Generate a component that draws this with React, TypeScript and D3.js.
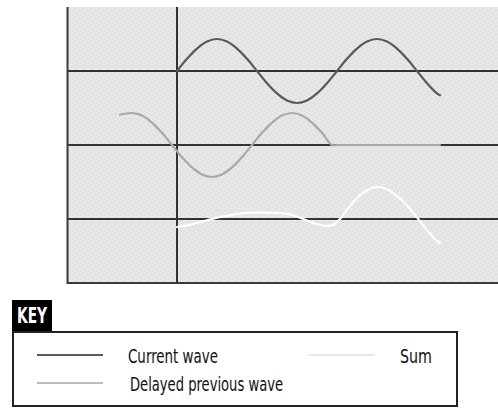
import React from "react";
import * as d3 from "d3";

// time axis: t = 0 at the vertical line; one period = 8 units
const currentT = [0, 0.5, 1, 1.5, 2, 2.5, 3, 3.5, 4, 4.5, 5, 5.5, 6, 6.5, 7, 7.5, 8, 8.5, 9, 9.5, 10, 10.5, 11, 11.5, 12, 12.5, 13, 13.15];
const currentV = [0, 0.38, 0.7, 0.92, 1, 0.92, 0.7, 0.38, 0, -0.38, -0.7, -0.92, -1, -0.92, -0.7, -0.38, 0, 0.38, 0.7, 0.92, 1, 0.92, 0.7, 0.38, 0, -0.38, -0.7, -0.76];

const delayedT = [-2.85, -2.25, -1.75, -1.25, -0.75, -0.25, 0.25, 0.75, 1.25, 1.75, 2.25, 2.75, 3.25, 3.75, 4.25, 4.75, 5.25, 5.75, 6.25, 6.75, 7.25, 7.75, 8.0, 13.15];
const delayedV = [0.95, 1, 0.92, 0.7, 0.38, 0, -0.38, -0.7, -0.92, -1, -0.92, -0.7, -0.38, 0, 0.38, 0.7, 0.92, 1, 0.92, 0.7, 0.38, 0, 0, 0];

const sumT = [0, 0.5, 1, 1.5, 2, 2.5, 3, 3.5, 4, 4.5, 5, 5.5, 6, 6.5, 7, 7.5, 7.8, 8.15, 8.5, 9, 9.5, 10, 10.5, 11, 11.5, 12, 12.5, 13, 13.15];
const sumV = [-0.25, -0.2, -0.12, -0.04, 0.04, 0.1, 0.16, 0.19, 0.2, 0.2, 0.19, 0.16, 0.08, -0.05, -0.16, -0.22, -0.18, 0, 0.3, 0.65, 0.9, 1, 0.93, 0.72, 0.42, 0.05, -0.35, -0.68, -0.75];

const seriesNames = ["Current wave", "Delayed previous wave", "Sum"];
const seriesColors = ["#595959", "#a9a9a9", "#ffffff"];
const legendSwatchColors = ["#595959", "#bdbdbd", "#e8e8e8"];

// dither texture of the plot background
const texRows = [
  "o.x..o.o",
  "..o.x...",
  "x...o.o.",
  ".o.x...x",
  "..o..o..",
  "o...x..o",
  ".x.o...x",
  "...o.x.o",
];
const texColors: Record<string, string> = { ".": "#e4e4e4", o: "#efefef", x: "#d9d9d9" };

const W = 498;
const H = 408;

export default function App() {
  const x = d3.scaleLinear().domain([-5.45, 16.05]).range([68, 498]);
  const band = d3.scalePoint<string>().domain(seriesNames).range([71, 219]);
  const amp = d3.scaleLinear().domain([-1, 1]).range([32, -32]);

  const mk = (ts: number[], vs: number[], name: string) => {
    const pts = ts.map((t, i) => [t, vs[i]] as [number, number]);
    const line = d3
      .line<[number, number]>()
      .x((d) => x(d[0]))
      .y((d) => (band(name) as number) + amp(d[1]))
      .curve(d3.curveCatmullRom);
    return line(pts) || "";
  };

  const paths = [
    mk(currentT, currentV, seriesNames[0]),
    mk(delayedT, delayedV, seriesNames[1]),
    mk(sumT, sumV, seriesNames[2]),
  ];

  const font = "'Liberation Sans Narrow', 'DejaVu Sans Condensed', 'Open Sans', sans-serif";
  const x0 = x(0);

  return (
    <svg width={W} height={H} style={{ position: "absolute", left: 0, top: 0 }}>
      <defs>
        <pattern id="tex" width="8" height="8" patternUnits="userSpaceOnUse">
          {texRows.map((row, r) =>
            row.split("").map((c, k) => (
              <rect key={`${r}-${k}`} x={k} y={r} width={1} height={1} fill={texColors[c]} />
            ))
          )}
        </pattern>
      </defs>
      <rect x="0" y="0" width={W} height={H} fill="#ffffff" />
      {/* panel */}
      <rect x={68} y={7} width={W - 68} height={276} fill="url(#tex)" />
      <line x1={67.5} x2={67.5} y1={7} y2={284} stroke="#3a3a3a" strokeWidth={2} />
      <line x1={67} x2={W} y1={283} y2={283} stroke="#3a3a3a" strokeWidth={2} />
      {/* baselines */}
      {seriesNames.map((n) => (
        <line key={n} x1={68} x2={W} y1={band(n)} y2={band(n)} stroke="#333" strokeWidth={2} />
      ))}
      <line x1={x0} x2={x0} y1={7} y2={283} stroke="#333" strokeWidth={2} />
      {/* waves */}
      {paths.map((p, i) => (
        <path key={i} d={p} fill="none" stroke={seriesColors[i]} strokeWidth={2.2} strokeLinecap="round" />
      ))}

      {/* key */}
      <rect x={12} y={300} width={40} height={31} fill="#000" />
      <text x={32} y={323} fill="#fff" fontFamily={font} fontWeight="bold" fontSize={21} textAnchor="middle" textLength={30} lengthAdjust="spacingAndGlyphs">
        KEY
      </text>
      <rect x={13} y={332} width={444} height={74} fill="#fff" stroke="#222" strokeWidth={2} />
      <line x1={37} x2={103} y1={355} y2={355} stroke={legendSwatchColors[0]} strokeWidth={2} />
      <text x={128} y={363} fontFamily={font} fontSize={20} fill="#111" textLength={90} lengthAdjust="spacingAndGlyphs">
        {seriesNames[0]}
      </text>
      <line x1={37} x2={103} y1={383} y2={383} stroke={legendSwatchColors[1]} strokeWidth={2} />
      <text x={130} y={391} fontFamily={font} fontSize={20} fill="#111" textLength={153} lengthAdjust="spacingAndGlyphs">
        {seriesNames[1]}
      </text>
      <line x1={308} x2={375} y1={355} y2={355} stroke={legendSwatchColors[2]} strokeWidth={2} />
      <text x={400} y={363} fontFamily={font} fontSize={20} fill="#111" textLength={32} lengthAdjust="spacingAndGlyphs">
        {seriesNames[2]}
      </text>
    </svg>
  );
}
